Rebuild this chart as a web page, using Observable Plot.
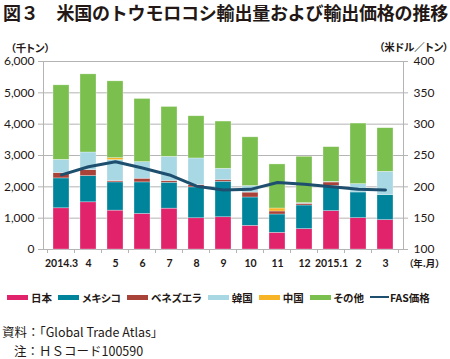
<!DOCTYPE html>
<html><head><meta charset="utf-8">
<script src="https://cdn.jsdelivr.net/npm/d3@7"></script>
<script src="https://cdn.jsdelivr.net/npm/@observablehq/plot@0.6"></script>
<style>
body{margin:0;width:450px;height:359px;overflow:hidden;background:#fff;font-family:"Noto Sans CJK JP",sans-serif;color:#231815}
#title{height:30px;line-height:24px;font-size:18px;font-weight:bold;padding-left:3px;white-space:nowrap;letter-spacing:-0.2px}
#chart svg{display:block}
#legend{height:34px;display:flex;align-items:center;padding-left:7px;font-size:10.5px;font-weight:bold;white-space:nowrap;font-feature-settings:"palt"}
.item{display:flex;align-items:center;margin-right:6px}
.sw{width:21px;height:5px;margin-right:3px}
#footer{padding-top:8px;font-size:12.5px;line-height:19px;white-space:nowrap}
</style></head>
<body>
<div id="title">図３　米国のトウモロコシ輸出量および輸出価格の推移</div>
<div id="chart"></div>
<div id="legend"></div>
<div id="footer"><div style="padding-left:2px">資料：「Global Trade Atlas」</div><div style="padding-left:14px">注：ＨＳコード100590</div></div>
<script>
const months = ["2014.3","4","5","6","7","8","9","10","11","12","2015.1","2","3"];
const seriesNames = ["日本","メキシコ","ベネズエラ","韓国","中国","その他"];
const seriesColors = ["#e0236b","#00849b","#a9433a","#a8d8e4","#f6b426","#7bbf4e"];
const japan     = [1315,1506,1241,1135,1304, 997,1029, 756, 533, 651,1226,1002, 938];
const mexico    = [ 954, 838, 901,1007, 827, 986,1134, 904, 584, 753, 807, 818, 798];
const venezuela = [ 170, 190,  43, 117,  54,  74,  53, 156,  96,  54, 106,   0,   0];
const korea     = [ 424, 562, 668, 530, 774, 849, 361, 210,   0,  23,  21, 267, 745];
const china     = [   0,   0,  63,   0,   0,   0,   0,   0,  96,   0,   0,   0,   0];
const other     = [2376,2493,2450,2015,1590,1346,1506,1554,1406,1478,1106,1932,1390];
const fasPrice  = [219,232,240,230,219,201,195,196,207,204,200,196,195];
const fasName = "FAS価格";
const fasColor = "#1e4f6e";
const leftTicks = [0,1000,2000,3000,4000,5000,6000];
const rightTicks = [100,150,200,250,300,350,400];

const seriesValues = [japan, mexico, venezuela, korea, china, other];
const rows = [];
months.forEach((m, i) => seriesNames.forEach((s, j) => rows.push({month: m, series: s, value: seriesValues[j][i]})));
const priceRows = months.map((m, i) => ({month: m, price: fasPrice[i]}));
// right axis maps 100..400 onto left 0..6000
const toLeft = p => (p - 100) * 20;

const plot = Plot.plot({
  width: 450, height: 250,
  marginLeft: 43, marginRight: 47, marginTop: 31, marginBottom: 31,
  style: {fontFamily: "Lato, 'Noto Sans CJK JP', sans-serif", fontSize: "12px", color: "#231815", background: "#fff", overflow: "visible", fontFeatureSettings: "'palt'"},
  x: {type: "band", domain: months, paddingInner: 0.42, paddingOuter: 0.21, label: null},
  y: {domain: [0, 6000], label: null},
  color: {domain: seriesNames, range: seriesColors},
  marks: [
    Plot.gridY(leftTicks, {stroke: "#b4b4b4", strokeOpacity: 1}),
    Plot.frame({stroke: "#b4b4b4"}),
    Plot.barY(rows, {x: "month", y: "value", fill: "series", stroke: "#fff", strokeWidth: 0.6, strokeOpacity: 0.5}),
    Plot.line(priceRows, {x: "month", y: d => toLeft(d.price), stroke: fasColor, strokeWidth: 3, curve: "linear"}),
    Plot.axisY(leftTicks, {anchor: "left", tickSize: 5, tickPadding: 4, stroke: "#b4b4b4", fill: "#231815", tickFormat: d3.format(","), label: null}),
    Plot.axisY(rightTicks.map(toLeft), {anchor: "right", tickSize: 4, tickPadding: 6, stroke: "#b4b4b4", fill: "#231815", tickFormat: d => String(d / 20 + 100), label: null}),
    Plot.axisX({anchor: "bottom", tickSize: 0, tickPadding: 10, fontSize: 10.5, fontWeight: "bold", label: null}),
    Plot.text(["（千トン）"], {frameAnchor: "top-left", dx: -33, dy: -17, textAnchor: "start", fontSize: 10.5, fontWeight: "bold", fontFamily: "Noto Sans CJK JP"}),
    Plot.text(["（米ドル／トン）"], {frameAnchor: "top-right", dx: 45, dy: -18, textAnchor: "end", fontSize: 10.5, fontWeight: "bold", fontFamily: "Noto Sans CJK JP"}),
    Plot.text(["（年.月）"], {frameAnchor: "bottom-right", dx: 5, dy: 17, textAnchor: "start", fontSize: 9.5, fontWeight: "bold", fontFamily: "Noto Sans CJK JP"})
  ]
});
document.getElementById("chart").appendChild(plot);

// tick marks at band boundaries on the bottom axis
const xs = plot.scale("x"), ys = plot.scale("y");
const gap = (xs.step - xs.bandwidth) / 2;
const bounds = months.map(m => xs.apply(m) - gap).concat([xs.apply(months[months.length - 1]) + xs.bandwidth + gap]);
const y0 = ys.apply(0);
d3.select(plot).append("g").selectAll("line").data(bounds).join("line")
  .attr("x1", d => d).attr("x2", d => d).attr("y1", y0).attr("y2", y0 + 4)
  .attr("stroke", "#b4b4b4");

// legend
const legend = d3.select("#legend");
seriesNames.forEach((s, i) => {
  const it = legend.append("div").attr("class", "item");
  it.append("div").attr("class", "sw").style("background", seriesColors[i]);
  it.append("span").text(s);
});
const li = legend.append("div").attr("class", "item");
li.append("div").attr("class", "sw").style("background", fasColor).style("height", "2.5px").style("width", "19px").style("margin-right", "1px");
li.append("span").text(fasName);
</script>
</body></html>
